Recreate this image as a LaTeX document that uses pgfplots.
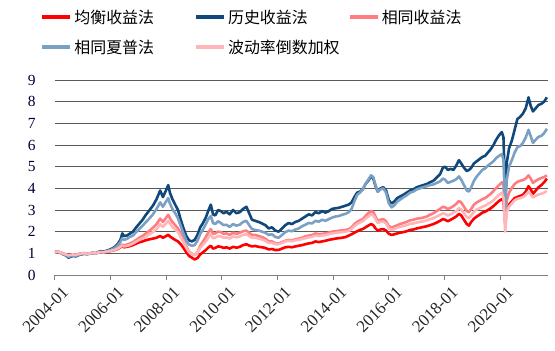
\documentclass[border=0pt]{standalone}
\usepackage{pgfplots}
\usepackage{pgfplotstable}
\usepackage{fontspec}
\pgfplotsset{compat=1.18}
\setmainfont{Liberation Serif}
\newfontfamily\cjk{Noto Sans CJK SC}
\definecolor{cRed}{RGB}{255,0,0}
\definecolor{cDark}{RGB}{16,72,124}
\definecolor{cSalmon}{RGB}{255,124,128}
\definecolor{cSteel}{RGB}{122,160,195}
\definecolor{cPink}{RGB}{255,182,185}
\pgfplotstableread{
t jh ls xs xp bd
2004.00 1.05 1.05 1.05 1.05 1.05
2004.10 1.08 1.06 1.07 1.07 1.08
2004.20 1.04 1.02 1.03 1.02 1.04
2004.30 0.98 0.95 0.97 0.96 0.98
2004.40 0.95 0.90 0.94 0.92 0.95
2004.48 0.90 0.80 0.88 0.84 0.91
2004.56 0.92 0.84 0.90 0.87 0.93
2004.65 0.95 0.88 0.93 0.90 0.95
2004.75 0.93 0.86 0.91 0.88 0.93
2004.85 0.97 0.92 0.95 0.94 0.97
2004.95 0.99 0.95 0.98 0.96 0.99
2005.05 1.01 0.98 1.00 0.99 1.01
2005.15 0.98 0.96 0.97 0.96 0.98
2005.25 1.00 0.99 0.99 0.99 1.00
2005.35 1.02 1.02 1.01 1.01 1.02
2005.45 1.00 1.00 0.99 0.99 1.00
2005.55 1.04 1.06 1.03 1.04 1.04
2005.65 1.06 1.10 1.06 1.07 1.06
2005.75 1.05 1.08 1.05 1.06 1.05
2005.85 1.08 1.12 1.08 1.10 1.08
2005.95 1.10 1.16 1.11 1.13 1.10
2006.05 1.12 1.22 1.14 1.18 1.13
2006.15 1.15 1.30 1.18 1.25 1.16
2006.25 1.20 1.42 1.24 1.36 1.22
2006.35 1.28 1.62 1.34 1.52 1.30
2006.42 1.32 1.92 1.40 1.70 1.35
2006.48 1.28 1.80 1.37 1.62 1.32
2006.58 1.30 1.82 1.40 1.66 1.34
2006.68 1.33 1.90 1.45 1.75 1.38
2006.80 1.38 2.00 1.52 1.82 1.45
2006.92 1.45 2.20 1.62 1.98 1.54
2007.05 1.52 2.40 1.74 2.15 1.64
2007.15 1.55 2.55 1.80 2.28 1.68
2007.25 1.60 2.75 1.90 2.42 1.76
2007.40 1.65 3.00 2.05 2.62 1.88
2007.52 1.68 3.20 2.18 2.80 1.98
2007.65 1.72 3.50 2.35 3.05 2.12
2007.78 1.80 3.90 2.60 3.35 2.35
2007.88 1.72 3.60 2.45 3.15 2.22
2007.97 1.78 3.85 2.60 3.35 2.35
2008.07 1.86 4.15 2.78 3.55 2.50
2008.13 1.78 3.80 2.62 3.30 2.38
2008.22 1.70 3.50 2.45 3.05 2.22
2008.32 1.62 3.25 2.30 2.85 2.10
2008.42 1.55 3.00 2.15 2.62 1.98
2008.52 1.42 2.55 1.90 2.25 1.75
2008.62 1.25 2.15 1.62 1.90 1.52
2008.72 1.05 1.80 1.32 1.58 1.25
2008.82 0.88 1.60 1.08 1.40 1.05
2008.92 0.80 1.55 0.98 1.35 0.97
2009.02 0.72 1.62 0.92 1.38 0.92
2009.12 0.78 1.85 1.05 1.58 1.02
2009.22 0.95 2.20 1.35 1.90 1.25
2009.32 1.05 2.40 1.55 2.10 1.40
2009.42 1.15 2.65 1.75 2.35 1.55
2009.52 1.28 3.00 1.98 2.60 1.75
2009.60 1.35 3.25 2.12 2.72 1.88
2009.68 1.22 2.80 1.90 2.40 1.70
2009.76 1.25 2.75 1.92 2.35 1.72
2009.86 1.32 3.00 2.00 2.48 1.80
2009.96 1.30 2.95 1.98 2.40 1.78
2010.06 1.25 2.85 1.90 2.30 1.72
2010.16 1.28 2.92 1.92 2.32 1.74
2010.28 1.22 2.80 1.85 2.22 1.68
2010.40 1.30 3.00 1.95 2.35 1.78
2010.52 1.26 2.85 1.90 2.28 1.74
2010.64 1.30 2.90 1.95 2.32 1.78
2010.76 1.38 3.05 2.02 2.45 1.85
2010.88 1.42 3.15 2.05 2.50 1.88
2010.98 1.36 2.85 1.95 2.30 1.80
2011.08 1.32 2.55 1.85 2.12 1.72
2011.20 1.34 2.50 1.85 2.08 1.72
2011.32 1.30 2.45 1.80 2.05 1.68
2011.44 1.28 2.38 1.75 2.00 1.64
2011.56 1.25 2.30 1.68 1.95 1.58
2011.68 1.18 2.15 1.55 1.85 1.48
2011.80 1.20 2.20 1.55 1.88 1.48
2011.92 1.15 2.05 1.46 1.75 1.42
2012.04 1.16 2.00 1.45 1.72 1.42
2012.16 1.22 2.15 1.52 1.85 1.48
2012.28 1.28 2.30 1.58 1.98 1.55
2012.40 1.30 2.40 1.62 2.05 1.58
2012.52 1.28 2.35 1.60 2.02 1.56
2012.64 1.32 2.45 1.65 2.10 1.60
2012.76 1.35 2.50 1.68 2.15 1.62
2012.88 1.38 2.60 1.72 2.25 1.66
2013.00 1.42 2.70 1.78 2.32 1.70
2013.12 1.46 2.80 1.82 2.40 1.74
2013.24 1.48 2.75 1.84 2.38 1.76
2013.36 1.55 2.90 1.92 2.50 1.82
2013.48 1.52 2.85 1.88 2.46 1.80
2013.60 1.55 2.95 1.90 2.55 1.82
2013.72 1.58 2.88 1.92 2.50 1.84
2013.84 1.62 2.95 1.96 2.58 1.88
2013.96 1.65 3.05 2.00 2.65 1.92
2014.08 1.68 3.08 2.02 2.70 1.94
2014.20 1.70 3.10 2.04 2.72 1.96
2014.32 1.72 3.15 2.06 2.78 1.98
2014.44 1.75 3.20 2.08 2.82 2.00
2014.56 1.82 3.25 2.12 2.90 2.04
2014.66 1.88 3.35 2.20 3.05 2.12
2014.76 1.95 3.60 2.35 3.40 2.25
2014.86 2.02 3.80 2.45 3.70 2.35
2014.96 2.08 3.85 2.52 3.80 2.42
2015.06 2.12 3.95 2.58 3.95 2.48
2015.16 2.20 4.20 2.72 4.20 2.60
2015.26 2.28 4.35 2.85 4.40 2.70
2015.36 2.35 4.55 2.95 4.60 2.80
2015.44 2.30 4.45 2.90 4.52 2.75
2015.52 2.15 4.10 2.70 4.15 2.58
2015.60 2.05 3.85 2.50 3.85 2.40
2015.70 2.10 4.00 2.55 3.95 2.45
2015.80 2.12 4.05 2.58 4.00 2.46
2015.90 2.05 3.90 2.48 3.80 2.38
2016.00 1.90 3.45 2.25 3.30 2.15
2016.10 1.85 3.30 2.20 3.12 2.08
2016.20 1.88 3.40 2.24 3.22 2.12
2016.30 1.92 3.55 2.30 3.38 2.18
2016.40 1.95 3.62 2.35 3.48 2.22
2016.52 1.98 3.70 2.40 3.58 2.26
2016.64 2.02 3.80 2.45 3.68 2.30
2016.76 2.08 3.90 2.52 3.80 2.36
2016.88 2.10 3.95 2.55 3.85 2.38
2017.00 2.15 4.05 2.60 3.95 2.42
2017.12 2.18 4.10 2.62 4.00 2.45
2017.24 2.22 4.15 2.65 4.05 2.48
2017.36 2.25 4.20 2.70 4.10 2.52
2017.48 2.30 4.28 2.78 4.15 2.58
2017.60 2.35 4.35 2.85 4.18 2.62
2017.72 2.42 4.50 2.95 4.25 2.70
2017.84 2.50 4.65 3.05 4.32 2.78
2017.94 2.58 4.95 3.15 4.45 2.85
2018.02 2.55 5.00 3.12 4.40 2.82
2018.12 2.48 4.85 3.05 4.25 2.75
2018.22 2.55 4.90 3.10 4.30 2.80
2018.32 2.62 4.85 3.18 4.35 2.88
2018.42 2.70 5.05 3.28 4.42 2.95
2018.52 2.82 5.30 3.42 4.55 3.08
2018.60 2.75 5.15 3.35 4.40 3.02
2018.70 2.55 4.95 3.15 4.15 2.85
2018.80 2.35 4.80 2.95 3.90 2.68
2018.88 2.28 4.85 2.90 3.85 2.62
2018.96 2.45 4.95 3.05 4.05 2.75
2019.06 2.60 5.15 3.25 4.35 2.92
2019.16 2.70 5.25 3.35 4.55 3.02
2019.26 2.78 5.35 3.42 4.70 3.08
2019.36 2.88 5.45 3.50 4.85 3.15
2019.46 2.92 5.50 3.55 4.92 3.20
2019.56 3.00 5.65 3.65 5.05 3.28
2019.66 3.08 5.80 3.75 5.15 3.35
2019.76 3.18 6.00 3.88 5.25 3.45
2019.86 3.30 6.25 4.02 5.40 3.58
2019.96 3.42 6.45 4.15 5.50 3.70
2020.06 3.50 6.60 4.28 5.58 3.80
2020.12 3.40 6.35 4.15 5.30 3.55
2020.18 2.40 3.60 2.55 3.00 2.00
2020.24 3.05 5.20 3.45 4.40 2.90
2020.32 3.25 5.85 3.80 5.00 3.15
2020.42 3.40 6.20 4.02 5.30 3.30
2020.52 3.55 6.70 4.20 5.65 3.45
2020.62 3.60 7.20 4.30 5.90 3.52
2020.72 3.65 7.30 4.35 5.95 3.55
2020.82 3.70 7.45 4.38 6.10 3.60
2020.92 3.85 7.70 4.45 6.35 3.70
2021.02 4.10 8.20 4.60 6.70 3.85
2021.10 3.95 7.80 4.45 6.40 3.72
2021.18 3.75 7.55 4.25 6.10 3.58
2021.28 3.90 7.70 4.35 6.25 3.65
2021.38 4.05 7.85 4.42 6.38 3.72
2021.48 4.15 7.90 4.48 6.42 3.75
2021.58 4.28 8.00 4.52 6.55 3.80
2021.68 4.45 8.20 4.60 6.75 3.88
}\data
\begin{document}
\begin{tikzpicture}
\path[use as bounding box] (0,0) rectangle (555bp,-351bp);
\begin{axis}[
  at={(55bp,-275bp)}, anchor=south west,
  scale only axis, width=493bp, height=195bp,
  xmin=2004, xmax=2021.72, ymin=0, ymax=9,
  axis x line*=bottom, axis y line*=left,
  y axis line style={draw=none},
  x axis line style={draw=black!50, line width=1bp},
  xtick={2004,2006,2008,2010,2012,2014,2016,2018,2020},
  xticklabels={2004-01,2006-01,2008-01,2010-01,2012-01,2014-01,2016-01,2018-01,2020-01},
  ytick={0,1,...,9},
  tick align=outside,
  major tick length=5bp,
  xtick style={draw=black!50, line width=1bp},
  ytick style={draw=none},
  ymajorgrids,
  grid style={draw=black!65, line width=0.9bp},
  /pgf/number format/assume math mode=true,
  yticklabel style={font=\fontsize{15.5}{15.5}\selectfont, text=black!80!blue, xshift=-11bp},
  xticklabel style={font=\fontsize{17}{17}\selectfont, text=black!85, rotate=45, anchor=north east, inner sep=0bp, xshift=1bp, yshift=-8bp},
  legend columns=3,
  legend cell align=left,
  legend style={at={(-0.03,1.37)}, anchor=north west, draw=none, fill=none,
    font=\cjk\fontsize{16}{16}\selectfont, row sep=11bp,
    /tikz/every even column/.append style={column sep=38bp},
    inner sep=0pt},
  legend image code/.code={\draw[#1, line width=4bp] (0bp,0bp) -- (28bp,0bp);},
  every axis plot/.append style={line width=2.6bp, line join=round},
]
\addplot[cRed] table[x=t,y=jh] {\data};
\addlegendentry{均衡收益法}
\addplot[cDark] table[x=t,y=ls] {\data};
\addlegendentry{历史收益法}
\addplot[cSalmon] table[x=t,y=xs] {\data};
\addlegendentry{相同收益法}
\addplot[cSteel] table[x=t,y=xp] {\data};
\addlegendentry{相同夏普法}
\addplot[cPink] table[x=t,y=bd] {\data};
\addlegendentry{\rlap{波动率倒数加权}\phantom{均衡收益法}}
\end{axis}
\end{tikzpicture}
\end{document}
